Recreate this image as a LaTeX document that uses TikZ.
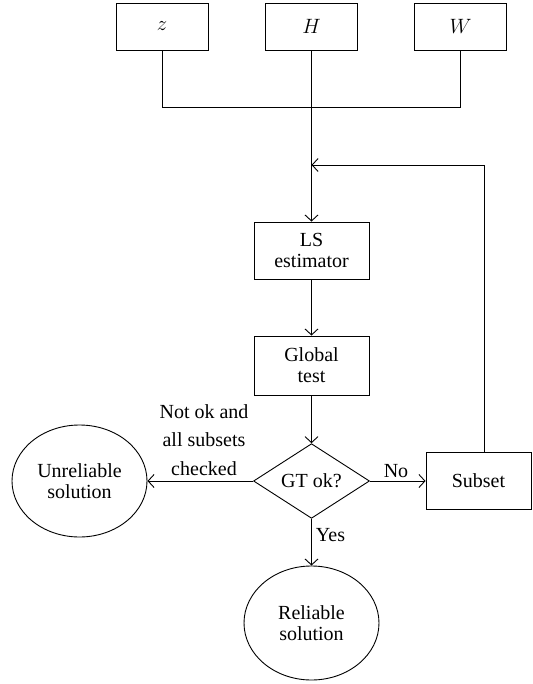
\documentclass[tikz,border=0pt]{standalone}
\usepackage{fontspec}
\setmainfont{Liberation Serif}
\usetikzlibrary{shapes.geometric,arrows.meta}

\begin{document}
\begin{tikzpicture}[x=1pt, y=-1pt, line width=0.9pt, >={Straight Barb[length=6pt,width=13pt]}]
    % Define node styles
    \tikzstyle{inbox}=[rectangle, draw=black, minimum width=92pt, minimum height=47pt, font=\fontsize{20}{21}\selectfont]
    \tikzstyle{procbox}=[rectangle, draw=black, align=center, minimum width=115pt, minimum height=57pt, inner sep=2pt, font=\fontsize{20}{21}\selectfont]
    \tikzstyle{decnode}=[diamond, draw=black, minimum width=116pt, minimum height=54pt, inner sep=0pt, font=\fontsize{20}{21}\selectfont]
    \tikzstyle{endnode}=[ellipse, draw=black, align=center, minimum width=135pt, minimum height=112pt, inner sep=0pt, font=\fontsize{20}{21}\selectfont]
    \tikzstyle{lbl}=[align=center, inner sep=0pt, font=\fontsize{20}{28.5}\selectfont]

    \useasboundingbox (0,0) rectangle (532,684);

    % Inputs
    \node[inbox] (z) at (162, 26.5) {$z$};
    \node[inbox] (H) at (311.5, 26.5) {$H$};
    \node[inbox] (W) at (460.5, 26.5) {$W$};
    \coordinate (jn) at (311.5, 107);

    % Main chain
    \node[procbox] (ls) at (311.5, 250.5) {LS\\estimator};
    \node[procbox, minimum height=59pt] (gt) at (311.5, 365.5) {Global\\test};
    \node[decnode] (gtok) at (311.5, 481) {GT ok?};

    % Outcomes
    \node[rectangle, draw=black, minimum width=105pt, minimum height=57pt, font=\fontsize{20}{21}\selectfont] (sub) at (478.5, 481) {Subset};
    \node[endnode] (unrel) at (79.5, 481) {Unreliable\\solution};
    \node[endnode, minimum height=114pt] (rel) at (311.5, 623) {Reliable\\solution};

    % Feedback loop
    \coordinate (turn) at (484, 165);
    \coordinate (mrg) at (311.5, 165);

    % Connectors
    \draw (z.south) -- (z.south |- jn) -- (W.south |- jn) -- (W.south);
    \draw[->] (H) -- (ls);
    \draw[->] (ls) -- (gt);
    \draw[->] (gt) -- (gtok);
    \draw[->] (gtok) -- (sub);
    \draw[->] (gtok) -- (unrel);
    \draw[->] (gtok) -- (rel);
    \draw[->] (sub.north -| turn) -- (turn) -- (mrg);

    % Labels
    \node[lbl] (notok) at (204, 440) {Not ok and\\all subsets\\checked};
    \node[lbl] (no) at (396, 471) {No};
    \node[lbl] (yes) at (330.5, 535) {Yes};

\end{tikzpicture}
\end{document}
